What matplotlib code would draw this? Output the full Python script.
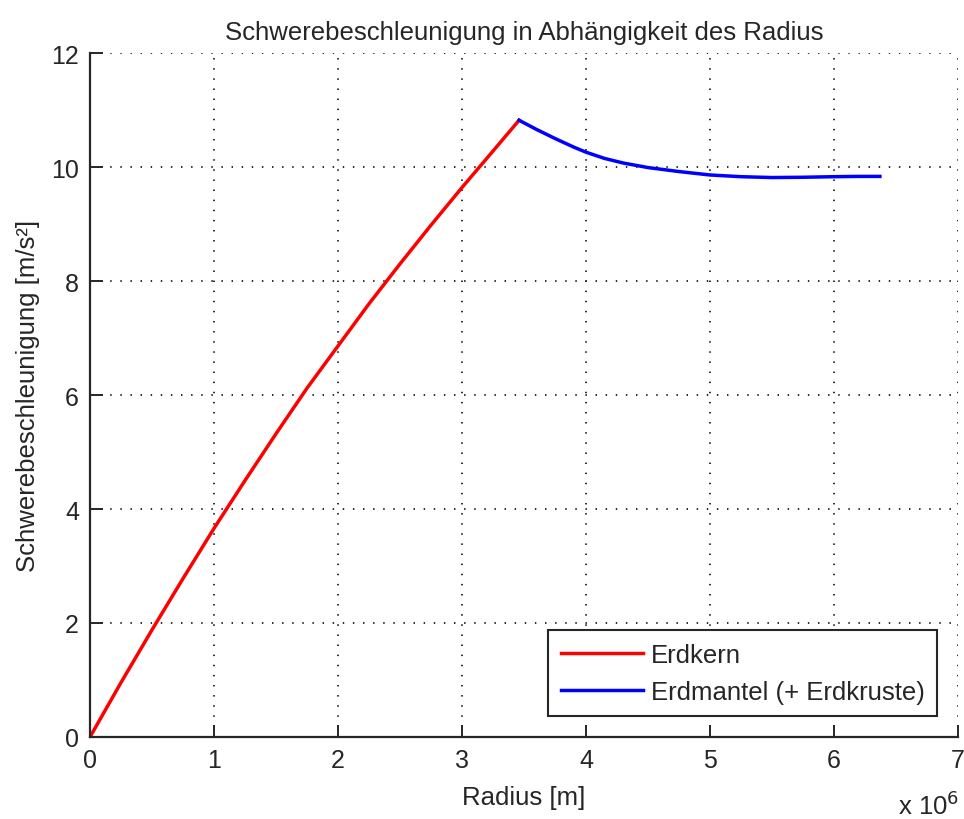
import matplotlib.pyplot as plt

plt.rcParams['font.family'] = ['Liberation Sans', 'DejaVu Sans']

# Erdkern (radius in 1e6 m, g in m/s^2)
r_kern = [0.0, 0.25, 0.5, 0.75, 1.0, 1.25, 1.5, 1.75, 2.0, 2.25, 2.5, 2.75, 3.0, 3.25, 3.46]
g_kern = [0.0, 0.955, 1.88, 2.78, 3.66, 4.50, 5.32, 6.12, 6.86, 7.60, 8.30, 8.98, 9.64, 10.28, 10.82]

# Erdmantel (+ Erdkruste)
r_mantel = [3.46, 3.6, 3.75, 3.9, 4.0, 4.15, 4.3, 4.5, 4.75, 5.0, 5.25, 5.5, 5.75, 6.0, 6.2, 6.37]
g_mantel = [10.82, 10.66, 10.50, 10.35, 10.26, 10.15, 10.07, 9.99, 9.92, 9.86, 9.83, 9.815,
            9.82, 9.83, 9.835, 9.835]

fig = plt.figure(figsize=(9.64, 8.2), dpi=100)
ax = fig.add_axes([90/964, 82/820, 868/964, 684/820])

ax.plot([r * 1e6 for r in r_kern], g_kern, color='#ff0000', lw=2.5, label='Erdkern')
ax.plot([r * 1e6 for r in r_mantel], g_mantel, color='#0000ff', lw=2.5,
        label='Erdmantel (+ Erdkruste)')

ax.set_xlim(0, 7e6)
ax.set_ylim(0, 12)
ax.set_xticks([i * 1e6 for i in range(8)])
ax.set_xticklabels([str(i) for i in range(8)])
ax.set_yticks(range(0, 13, 2))

ax.grid(True, color='#1a1a1a', linestyle=(0, (0.8, 4.8)), linewidth=1.3)
for s in ['top', 'right']:
    ax.spines[s].set_visible(False)
for s in ['left', 'bottom']:
    ax.spines[s].set_linewidth(1.6)
    ax.spines[s].set_color('#262626')
ax.tick_params(direction='in', length=9, width=1.4, color='#262626',
               labelsize=18, labelcolor='#262626', pad=8)

fs = 18.5
ax.set_title('Schwerebeschleunigung in Abhängigkeit des Radius', fontsize=fs,
             color='#262626', pad=10)
ax.set_xlabel('Radius [m]', fontsize=fs, color='#262626', labelpad=9)
ax.set_ylabel('Schwerebeschleunigung [m/s²]', fontsize=fs, color='#262626', labelpad=8)
fig.text(898/964, 1 - 806/820, 'x 10$^6$', fontsize=fs, color='#262626',
         va='center', ha='left')

leg = ax.legend(loc='lower right', fontsize=fs, fancybox=False, framealpha=1,
                edgecolor='#262626', handlelength=3.2, handletextpad=0.3,
                borderaxespad=0.8, borderpad=0.5, labelspacing=0.5)
leg.get_frame().set_linewidth(1.5)
for t in leg.get_texts():
    t.set_color('#262626')

fig.savefig('out.png', dpi=100)
